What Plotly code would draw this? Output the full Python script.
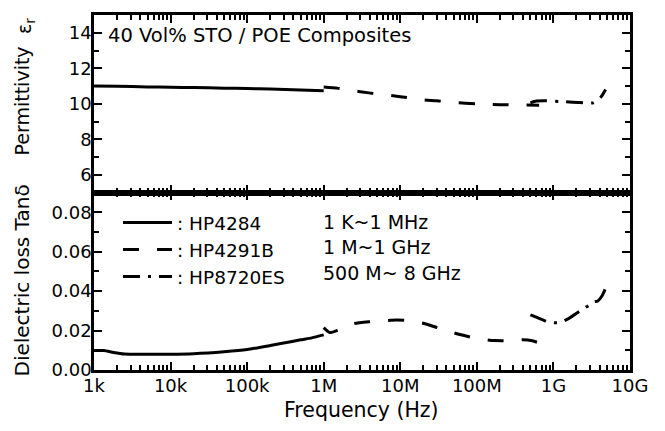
import plotly.graph_objects as go
from plotly.subplots import make_subplots

# ---------------- data ----------------
# Permittivity (top panel)
eps_hp4284_f = [1e3, 2e3, 5e3, 1e4, 2e4, 5e4, 1e5, 2e5, 5e5, 1e6]
eps_hp4284 = [11.0, 10.98, 10.95, 10.93, 10.91, 10.88, 10.86, 10.83, 10.78, 10.73]

eps_hp4291b_f = [1e6, 1.5e6, 2e6, 3e6, 5e6, 1e7, 2e7, 3e7, 5e7, 1e8, 2e8, 4e8, 6.5e8]
eps_hp4291b = [10.95, 10.88, 10.8, 10.68, 10.55, 10.4, 10.22, 10.17, 10.07, 10.0, 9.95, 9.93, 9.92]

eps_hp8720es_f = [5e8, 6e8, 8e8, 1.2e9, 1.6e9, 2.2e9, 2.8e9, 3.3e9, 3.8e9, 4.3e9, 4.8e9]
eps_hp8720es = [10.05, 10.15, 10.17, 10.12, 10.1, 10.07, 10.03, 10.05, 10.2, 10.45, 10.8]

# Dielectric loss tan(delta) (bottom panel)
tan_hp4284_f = [1e3, 1.35e3, 1.8e3, 2.5e3, 5e3, 1e4, 2e4, 5e4, 1e5, 2e5, 3e5, 5e5, 7e5, 1e6]
tan_hp4284 = [0.0099, 0.0099, 0.0089, 0.0081, 0.0080, 0.0080, 0.0083, 0.0093, 0.0104,
              0.0124, 0.0137, 0.0153, 0.0163, 0.0178]

tan_hp4291b_f = [1e6, 1.2e6, 1.6e6, 2.5e6, 4e6, 6e6, 9e6, 1.3e7, 2e7, 3.5e7, 6e7, 1e8,
                 1.7e8, 2.9e8, 4e8, 5.3e8, 6.6e8]
tan_hp4291b = [0.0215, 0.0190, 0.0205, 0.0235, 0.0245, 0.0250, 0.0253, 0.0250, 0.0237,
               0.0207, 0.0180, 0.0160, 0.0149, 0.0149, 0.0153, 0.0148, 0.0136]

tan_hp8720es_f = [5e8, 6e8, 7.5e8, 9e8, 1.2e9, 1.6e9, 2.2e9, 2.9e9, 3.3e9, 3.8e9, 4.3e9, 4.8e9]
tan_hp8720es = [0.0280, 0.0268, 0.0252, 0.0242, 0.0240, 0.0262, 0.0298, 0.0328, 0.0345,
                0.0350, 0.0375, 0.0415]

legend_names = [": HP4284", ": HP4291B", ": HP8720ES"]
legend_ranges = ["1 K~1 MHz", "1 M~1 GHz", "500 M~ 8 GHz"]

x_tickvals = [1e3, 1e4, 1e5, 1e6, 1e7, 1e8, 1e9, 1e10]
x_ticktext = ["1k", "10k", "100k", "1M", "10M", "100M", "1G", "10G"]
x_minor = [m * 10 ** e for e in range(3, 10) for m in range(2, 10)]

eps_tickvals = [6, 8, 10, 12, 14]
eps_minor = [5, 7, 9, 11, 13, 15]
tan_tickvals = [0.0, 0.02, 0.04, 0.06, 0.08]
tan_ticktext = ["0.00", "0.02", "0.04", "0.06", "0.08"]
tan_minor = [0.01, 0.03, 0.05, 0.07, 0.09]

# ---------------- figure ----------------
FONT = "DejaVu Sans"
W, H = 665, 431
ML, MR, MT, MB = 94, 35, 13, 61
PW, PH = W - ML - MR, H - MT - MB

def px_x(px):
    return (px - ML) / PW

def px_y(py):
    return (H - MB - py) / PH

fig = make_subplots(rows=2, cols=1, shared_xaxes=True, vertical_spacing=0)

solid = dict(color="black", width=3, dash="solid")
dashed = dict(color="black", width=3, dash="16px,18px")
dashdot = dict(color="black", width=3, dash="17px,8px,3px,8px")

styles = [solid, dashed, dashdot]
eps_sets = [(eps_hp4284_f, eps_hp4284), (eps_hp4291b_f, eps_hp4291b), (eps_hp8720es_f, eps_hp8720es)]
tan_sets = [(tan_hp4284_f, tan_hp4284), (tan_hp4291b_f, tan_hp4291b), (tan_hp8720es_f, tan_hp8720es)]

for (fx, fy), st, nm in zip(eps_sets, styles, legend_names):
    fig.add_trace(go.Scatter(x=fx, y=fy, mode="lines", line=dict(st, shape="spline", smoothing=0.6),
                             name=nm, showlegend=False), row=1, col=1)
for i, ((fx, fy), st, nm) in enumerate(zip(tan_sets, styles, legend_names)):
    fig.add_trace(go.Scatter(x=fx, y=fy, mode="lines", line=dict(st, shape="spline", smoothing=0.6),
                             name=nm, showlegend=True, legendgroup=f"g{i}"), row=2, col=1)

axis_common = dict(showline=True, linecolor="black", linewidth=2.5, mirror="ticks",
                   ticks="inside", ticklen=8, tickwidth=2, tickcolor="black",
                   showgrid=False, zeroline=False,
                   tickfont=dict(family=FONT, size=18, color="black"))

xminor = dict(tickvals=x_minor, ticks="inside", ticklen=5, tickwidth=1.5, tickcolor="black", showgrid=False)
fig.update_xaxes(type="log", range=[3, 10], tickmode="array", tickvals=x_tickvals, ticktext=x_ticktext,
                 minor=xminor, ticklabelstandoff=-2, **axis_common)
fig.update_xaxes(showticklabels=False, row=1, col=1)
fig.update_xaxes(showticklabels=True, row=2, col=1)

fig.update_yaxes(range=[5, 15], tickmode="array", tickvals=eps_tickvals, ticklabelstandoff=-4,
                 minor=dict(tickvals=eps_minor, ticks="inside", ticklen=5, tickwidth=1.5, tickcolor="black"),
                 row=1, col=1, **axis_common)
fig.update_yaxes(range=[0, 0.09], tickmode="array", tickvals=tan_tickvals, ticktext=tan_ticktext,
                 ticklabelstandoff=-4,
                 minor=dict(tickvals=tan_minor, ticks="inside", ticklen=5, tickwidth=1.5, tickcolor="black"),
                 row=2, col=1, **axis_common)

annotations = [
    dict(text="40 Vol% STO / POE Composites", x=px_x(106), y=px_y(34), xanchor="left", yanchor="middle",
         font=dict(size=19.5)),
    dict(text="Frequency (Hz)", x=px_x(361), y=px_y(410), xanchor="center", yanchor="middle",
         font=dict(size=20.5)),
    dict(text="Permittivity", x=px_x(22), y=px_y(100), xanchor="center", yanchor="middle",
         textangle=-90, font=dict(size=19)),
    dict(text="ε<sub>r</sub>", x=px_x(26), y=px_y(24), xanchor="center", yanchor="middle",
         textangle=-90, font=dict(size=19)),
    dict(text="Dielectric loss Tanδ", x=px_x(22), y=px_y(280), xanchor="center", yanchor="middle",
         textangle=-90, font=dict(size=20)),
]
for txt, ypx in zip(legend_ranges, [221, 246, 272]):
    annotations.append(dict(text=txt, x=px_x(321), y=px_y(ypx), xanchor="left", yanchor="middle",
                            font=dict(size=19)))
for a in annotations:
    a.update(xref="paper", yref="paper", showarrow=False)
    a["font"].update(family=FONT, color="black")

fig.update_layout(
    width=W, height=H,
    margin=dict(l=ML, r=MR, t=MT, b=MB),
    paper_bgcolor="white", plot_bgcolor="white",
    font=dict(family=FONT, size=18, color="black"),
    showlegend=True,
    legend=dict(x=px_x(118), y=px_y(203), xanchor="left", yanchor="top",
                bgcolor="rgba(0,0,0,0)", borderwidth=0, itemwidth=49, tracegroupgap=1,
                traceorder="normal", font=dict(family=FONT, size=18.5, color="black")),
    annotations=annotations,
)

fig.write_html("out.html", config={"displayModeBar": False},
               post_script="document.body.style.margin='0';document.body.style.overflow='hidden';")
